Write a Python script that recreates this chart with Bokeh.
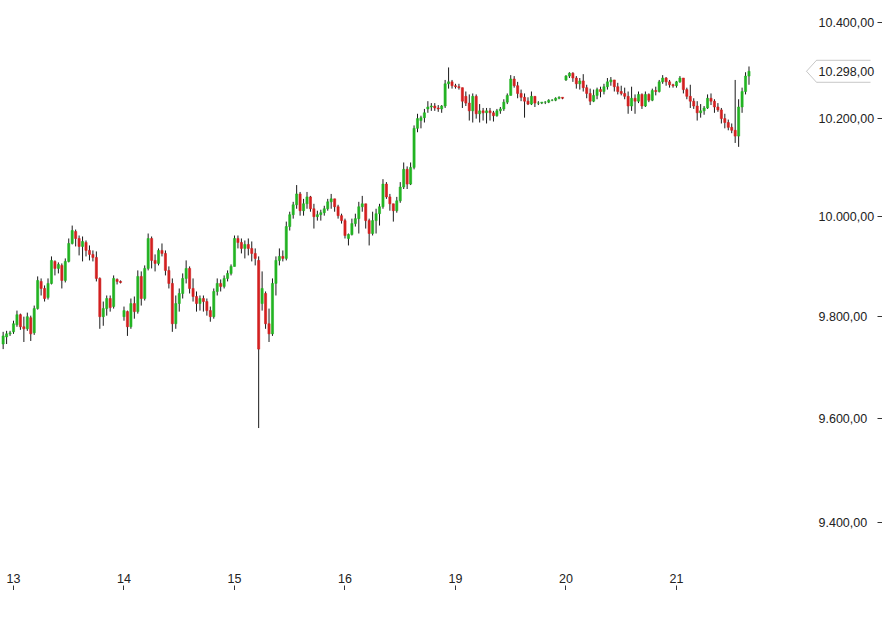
import numpy as np
from bokeh.plotting import figure
from bokeh.models import (ColumnDataSource, Range1d, LinearAxis, LogAxis,
                          FixedTicker, CustomJSTickFormatter, PolyAnnotation)
from bokeh.embed import file_html
from bokeh.resources import INLINE

# ---------------- data ----------------
day_labels = ["13", "14", "15", "16", "19", "20", "21"]
bars_per_day = 32
bars_before_first_day = 3
y_tick_values = [9400, 9600, 9800, 10000, 10200, 10400]

opens = [
    9746, 9760, 9766, 9770, 9784, 9804, 9780, 9776, 9798, 9768,
    9816, 9870, 9856, 9838, 9866, 9910, 9896, 9902, 9872, 9910,
    9946, 9970, 9956, 9940, 9948, 9932, 9924, 9918, 9876, 9800,
    9816, 9836, 9820, 9874, 9870, 9800, 9810, 9780, 9826, 9810,
    9880, 9836, 9896, 9956, 9912, 9906, 9932, 9926, 9892, 9866,
    9786, 9826, 9846, 9876, 9896, 9856, 9840, 9826, 9836, 9830,
    9812, 9800, 9850, 9866, 9860, 9876, 9886, 9900, 9956, 9948,
    9936, 9944, 9936, 9926, 9912, 9826, 9846, 9786, 9766, 9866,
    9912, 9920, 9916, 9980, 10004, 10024, 10046, 10012, 10026, 10040,
    10016, 10000, 10004, 10008, 10016, 10030, 10036, 10020, 10002, 9992,
    9956, 9964, 9986, 9996, 10020, 10026, 9992, 9966, 9992, 10006,
    10020, 10066, 10040, 10026, 10012, 10032, 10060, 10096, 10066, 10100,
    10180, 10196, 10202, 10220, 10224, 10226, 10222, 10220, 10226, 10272,
    10276, 10268, 10266, 10264, 10246, 10232, 10216, 10246, 10210, 10216,
    10212, 10216, 10212, 10206, 10216, 10220, 10234, 10248, 10282, 10268,
    10252, 10244, 10236, 10230, 10246, 10232, 10232, 10234, 10234, 10238,
    10238, 10242, 10244, 10280, 10288, 10294, 10284, 10272, 10278, 10264,
    10252, 10236, 10248, 10260, 10256, 10266, 10276, 10280, 10266, 10256,
    10252, 10246, 10226, 10242, 10236, 10250, 10226, 10250, 10238, 10258,
    10256, 10276, 10284, 10276, 10270, 10268, 10276, 10284, 10260, 10246,
    10236, 10226, 10212, 10216, 10222, 10242, 10236, 10224, 10218, 10200,
    10192, 10182, 10176, 10164, 10224, 10256, 10288,
]

highs = [
    9770, 9772, 9772, 9792, 9812, 9806, 9800, 9808, 9802, 9822,
    9880, 9876, 9862, 9876, 9920, 9912, 9908, 9906, 9916, 9956,
    9982, 9974, 9962, 9960, 9952, 9942, 9932, 9930, 9878, 9830,
    9842, 9842, 9882, 9876, 9872, 9820, 9812, 9836, 9840, 9892,
    9890, 9902, 9966, 9960, 9924, 9936, 9946, 9932, 9900, 9876,
    9842, 9856, 9886, 9912, 9900, 9876, 9850, 9842, 9842, 9836,
    9820, 9856, 9876, 9874, 9882, 9892, 9904, 9962, 9962, 9956,
    9952, 9956, 9950, 9936, 9920, 9890, 9850, 9816, 9876, 9920,
    9936, 9932, 9990, 10010, 10030, 10064, 10050, 10036, 10050, 10042,
    10026, 10012, 10014, 10022, 10036, 10046, 10036, 10024, 10006, 9996,
    9966, 9996, 10006, 10030, 10042, 10026, 9996, 10010, 10016, 10026,
    10076, 10070, 10046, 10026, 10040, 10070, 10110, 10102, 10110, 10186,
    10210, 10206, 10220, 10236, 10232, 10232, 10228, 10228, 10280, 10306,
    10280, 10272, 10272, 10264, 10256, 10250, 10252, 10250, 10230, 10222,
    10222, 10222, 10216, 10220, 10224, 10240, 10252, 10290, 10288, 10276,
    10260, 10252, 10244, 10256, 10246, 10236, 10234, 10236, 10240, 10240,
    10244, 10246, 10244, 10290, 10296, 10296, 10288, 10284, 10292, 10270,
    10262, 10260, 10264, 10266, 10272, 10284, 10286, 10280, 10274, 10268,
    10264, 10256, 10266, 10250, 10256, 10252, 10256, 10252, 10262, 10266,
    10280, 10290, 10286, 10280, 10272, 10278, 10288, 10284, 10264, 10270,
    10242, 10236, 10230, 10226, 10250, 10252, 10240, 10232, 10222, 10210,
    10198, 10190, 10280, 10240, 10264, 10296, 10308,
]

lows = [
    9736, 9746, 9762, 9766, 9780, 9774, 9750, 9772, 9752, 9764,
    9814, 9842, 9830, 9834, 9864, 9882, 9886, 9856, 9868, 9908,
    9944, 9940, 9922, 9910, 9920, 9912, 9910, 9870, 9776, 9782,
    9802, 9810, 9816, 9864, 9866, 9792, 9762, 9776, 9796, 9806,
    9822, 9832, 9892, 9896, 9890, 9902, 9920, 9882, 9856, 9770,
    9776, 9810, 9836, 9866, 9846, 9830, 9810, 9812, 9810, 9802,
    9790, 9796, 9842, 9850, 9856, 9870, 9882, 9900, 9936, 9926,
    9916, 9922, 9910, 9902, 9582, 9812, 9776, 9750, 9762, 9842,
    9902, 9910, 9912, 9972, 9996, 10016, 10002, 10002, 10016, 10010,
    9976, 9992, 9992, 10002, 10012, 10016, 10010, 9996, 9986, 9956,
    9942, 9962, 9980, 9966, 10010, 9976, 9942, 9962, 9966, 9982,
    10016, 10036, 10012, 9990, 10008, 10028, 10056, 10056, 10064, 10096,
    10172, 10180, 10192, 10212, 10216, 10216, 10214, 10212, 10222, 10262,
    10262, 10262, 10260, 10222, 10226, 10196, 10192, 10200, 10192, 10196,
    10190, 10196, 10194, 10204, 10210, 10216, 10230, 10248, 10264, 10242,
    10236, 10202, 10228, 10228, 10224, 10228, 10230, 10230, 10232, 10236,
    10236, 10240, 10240, 10278, 10284, 10276, 10262, 10260, 10256, 10242,
    10228, 10234, 10240, 10244, 10250, 10260, 10268, 10256, 10250, 10248,
    10240, 10210, 10216, 10210, 10232, 10220, 10224, 10234, 10236, 10248,
    10254, 10272, 10268, 10264, 10264, 10264, 10274, 10252, 10240, 10222,
    10220, 10196, 10202, 10208, 10220, 10228, 10212, 10214, 10190, 10180,
    10176, 10170, 10150, 10142, 10212, 10250, 10270,
]

closes = [
    9762, 9766, 9768, 9786, 9804, 9780, 9776, 9800, 9766, 9816,
    9872, 9856, 9836, 9866, 9912, 9896, 9904, 9872, 9910, 9946,
    9972, 9956, 9940, 9950, 9932, 9924, 9918, 9876, 9800, 9816,
    9836, 9818, 9876, 9870, 9868, 9812, 9780, 9826, 9810, 9880,
    9836, 9896, 9956, 9912, 9906, 9932, 9926, 9892, 9866, 9786,
    9826, 9846, 9876, 9896, 9856, 9840, 9826, 9836, 9830, 9812,
    9800, 9850, 9866, 9860, 9876, 9886, 9900, 9956, 9948, 9936,
    9944, 9936, 9926, 9916, 9736, 9856, 9786, 9766, 9866, 9912,
    9920, 9916, 9980, 10004, 10024, 10046, 10012, 10026, 10040, 10016,
    10000, 10004, 10008, 10016, 10030, 10036, 10020, 10002, 9992, 9962,
    9964, 9986, 9996, 10020, 10026, 9992, 9966, 9992, 10006, 10020,
    10066, 10040, 10026, 10012, 10032, 10060, 10096, 10066, 10100, 10180,
    10200, 10202, 10212, 10224, 10226, 10222, 10220, 10226, 10272, 10276,
    10268, 10266, 10264, 10236, 10232, 10216, 10246, 10210, 10216, 10212,
    10216, 10212, 10206, 10216, 10220, 10234, 10248, 10282, 10268, 10252,
    10244, 10236, 10230, 10246, 10232, 10232, 10234, 10234, 10238, 10238,
    10242, 10244, 10242, 10288, 10294, 10284, 10272, 10278, 10264, 10252,
    10236, 10248, 10260, 10256, 10266, 10276, 10280, 10266, 10256, 10252,
    10246, 10226, 10242, 10236, 10250, 10226, 10250, 10238, 10258, 10256,
    10276, 10284, 10276, 10270, 10268, 10276, 10284, 10260, 10246, 10236,
    10226, 10212, 10216, 10222, 10242, 10236, 10224, 10218, 10200, 10192,
    10182, 10176, 10164, 10224, 10256, 10288, 10298,
]

# ---------------- helpers ----------------
def de_fmt(v):
    s = f"{v:,.2f}"
    return s.replace(",", "_").replace(".", ",").replace("_", ".")

FONT = "Liberation Sans"
GREEN = "#22b422"
RED = "#d42020"
FRAME_W = 870

n = min(len(opens), len(highs), len(lows), len(closes))
o = np.array(opens[:n], dtype=float)
h = np.array(highs[:n], dtype=float)
lo = np.array(lows[:n], dtype=float)
c = np.array(closes[:n], dtype=float)
xs = np.arange(n)
colors = [GREEN if cc >= oo else RED for oo, cc in zip(o, c)]

src = ColumnDataSource(dict(x=xs, high=h, low=lo,
                            top=np.maximum(o, c), bottom=np.minimum(o, c),
                            color=colors))

# slot spacing ~3.453 px, first slot at ~2.6 px
p = figure(frame_width=FRAME_W, frame_height=566,
           x_range=Range1d(-0.765, -0.765 + FRAME_W / 3.453),
           y_range=Range1d(9317.7, 10446.3),
           y_axis_type="log", x_axis_location=None, y_axis_location=None,
           toolbar_location=None, output_backend="svg", min_border=0)
p.outline_line_color = None
p.background_fill_color = "white"
p.border_fill_color = "white"
for g in p.grid:
    g.visible = False

p.segment(x0="x", y0="high", x1="x", y1="low", source=src,
          line_color="#1a1a1a", line_width=1)
p.vbar(x="x", width=0.62, top="top", bottom="bottom", source=src,
       fill_color="color", line_color="color", line_width=0.6)

# last price callout outline
last = float(c[-1])
k = float(np.exp(11 / 4950))
callout = PolyAnnotation(xs=[806, 816, 900, 900, 816],
                         ys=[last, last * k, last * k, last / k, last / k],
                         xs_units="screen", ys_units="data",
                         fill_color=None, line_color="#444444", line_width=1)
p.add_layout(callout)

# x axes: labels, then small tick marks underneath
day_ticks = [bars_before_first_day + j * bars_per_day for j in range(len(day_labels))]
xax = LinearAxis(ticker=FixedTicker(ticks=day_ticks),
                 major_label_overrides={t: lab for t, lab in zip(day_ticks, day_labels)})
xax.axis_line_color = None
xax.major_tick_line_color = None
xax.major_tick_in = 0
xax.major_tick_out = 0
xax.minor_tick_line_color = None
xax.major_label_standoff = 7
xax.major_label_text_font = FONT
xax.major_label_text_font_size = "12.5px"
xax.major_label_text_color = "#222222"
p.add_layout(xax, "below")

xax2 = LinearAxis(ticker=FixedTicker(ticks=day_ticks),
                  formatter=CustomJSTickFormatter(code="return ''"))
xax2.axis_line_color = None
xax2.major_tick_line_color = "#333333"
xax2.major_tick_in = 0
xax2.major_tick_out = 5
xax2.minor_tick_line_color = None
xax2.major_label_standoff = 0
p.add_layout(xax2, "below")

# y axis on the right: labels drawn back over the blank right part of the frame
label_ticks = y_tick_values + [last]
yax = LogAxis(ticker=FixedTicker(ticks=label_ticks),
              major_label_overrides={v: de_fmt(v) for v in label_ticks})
yax.axis_line_color = None
yax.major_tick_line_color = None
yax.major_tick_in = 0
yax.major_tick_out = 0
yax.minor_tick_line_color = None
yax.major_label_standoff = -52
yax.major_label_text_font = FONT
yax.major_label_text_font_size = "12.5px"
yax.major_label_text_color = "#222222"
p.add_layout(yax, "right")

yax2 = LogAxis(ticker=FixedTicker(ticks=y_tick_values),
               formatter=CustomJSTickFormatter(code="return ''"))
yax2.axis_line_color = None
yax2.major_tick_line_color = "#333333"
yax2.major_tick_in = 0
yax2.major_tick_out = 5
yax2.minor_tick_line_color = None
yax2.major_label_standoff = 0
p.add_layout(yax2, "right")

open("out.html", "w").write(file_html(p, INLINE))
